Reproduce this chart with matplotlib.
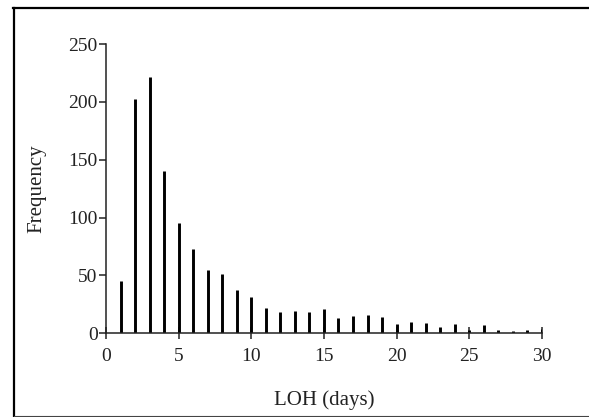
import matplotlib.pyplot as plt
from matplotlib.lines import Line2D

# LOH (days) histogram counts
days = list(range(1, 31))
freq = [45, 203, 222, 140, 95, 73, 55, 51, 37, 31,
        22, 18, 19, 18, 21, 13, 15, 16, 14, 8,
        10, 9, 5, 8, 3, 7, 3, 1.5, 3, 4]

x_ticks = [0, 5, 10, 15, 20, 25, 30]
y_ticks = [0, 50, 100, 150, 200, 250]

plt.rcParams["font.family"] = ["Liberation Serif", "DejaVu Serif"]

fig = plt.figure(figsize=(5.89, 4.17), dpi=100)
ax = fig.add_axes([0.180, 0.201, 0.740, 0.693])

ax.vlines(days, 0, freq, color="black", linewidth=2.1)

ax.set_xlim(0, 30)
ax.set_ylim(0, 250)
ax.set_xticks(x_ticks)
ax.set_yticks(y_ticks)

for side in ("top", "right"):
    ax.spines[side].set_visible(False)
for side in ("left", "bottom"):
    ax.spines[side].set_linewidth(1.1)
    ax.spines[side].set_color("#222222")

ax.tick_params(axis="y", direction="out", length=5, width=1.1,
               labelsize=14, colors="#222222", pad=1)
ax.tick_params(axis="x", direction="inout", length=9, width=1.1,
               labelsize=14, colors="#222222", pad=6)

ax.set_ylabel("Frequency", fontsize=15, color="#222222", labelpad=16)
ax.set_xlabel("LOH (days)", fontsize=15, color="#222222", labelpad=18)

# frame around the figure (left and top heavy, bottom light)
fig.add_artist(Line2D([14 / 589, 14 / 589], [0, 1 - 8 / 417],
                      transform=fig.transFigure, color="black", lw=1.6))
fig.add_artist(Line2D([13 / 589, 1], [1 - 8 / 417, 1 - 8 / 417],
                      transform=fig.transFigure, color="black", lw=1.6))
fig.add_artist(Line2D([14 / 589, 1], [1 / 417, 1 / 417],
                      transform=fig.transFigure, color="#444444", lw=0.8))

fig.savefig("out.png", dpi=100)
